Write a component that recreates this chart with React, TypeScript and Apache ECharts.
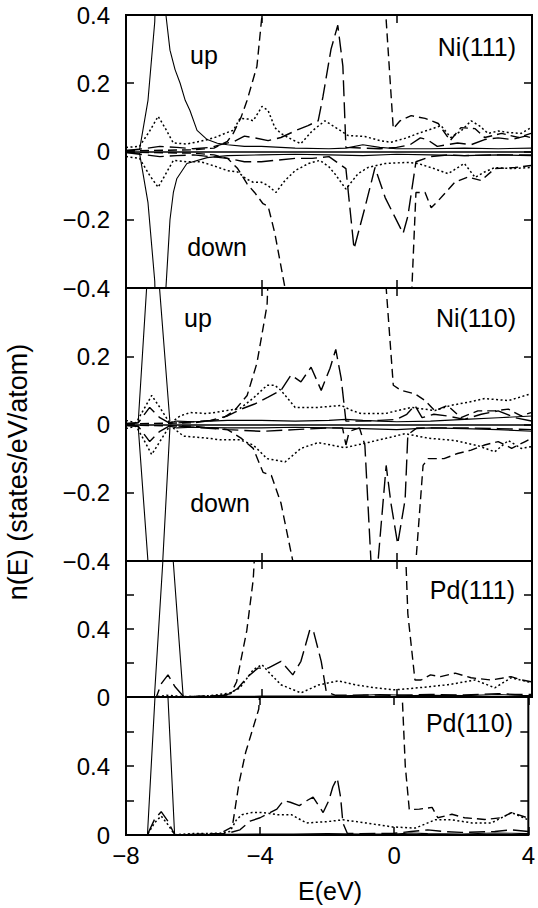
import React, { useEffect, useRef } from 'react';
import * as echarts from 'echarts';

type Pt = [number, number];

// ---------- axis ticks ----------
const xMin = -8;
const xMax = 4;
const xStep = 4;
const niRange = [-0.4, 0.4];
const pdRange = [0, 0.8];
const yStep = 0.2;
const pdLabelled = [0, 0.4];

// ---------- Ni(111) ----------
const ni111SolidUp: Pt[] = [[-8,0.003],[-7.6,0.005],[-7.35,0.15],[-7.15,0.38],[-7.05,0.8],[-6.95,0.8],[-6.82,0.4],[-6.7,0.297],[-6.55,0.24],[-6.4,0.2],[-6.25,0.15],[-6.11,0.12],[-5.9,0.062],[-5.6,0.035],[-5.3,0.024],[-5,0.02],[-4.5,0.015],[-4,0.015],[-3,0.01],[-2,0.008],[-1.5,0.01],[-1,0.02],[-0.5,0.012],[0,0.008],[1,0.008],[2,0.01],[3,0.008],[4,0.01]];
const ni111SolidDown: Pt[] = [[-8,-0.003],[-7.6,-0.005],[-7.35,-0.15],[-7.15,-0.38],[-7.05,-0.8],[-6.95,-0.8],[-6.82,-0.4],[-6.7,-0.2],[-6.6,-0.12],[-6.5,-0.08],[-6.2,-0.035],[-5.6,-0.018],[-5,-0.012],[-4,-0.01],[-3,-0.008],[-2,-0.01],[-1,-0.012],[0,-0.008],[1,-0.01],[2,-0.012],[3,-0.01],[4,-0.012]];
const ni111DotUp: Pt[] = [[-8,0.012],[-7.6,0.015],[-7.3,0.06],[-7.05,0.103],[-6.85,0.07],[-6.6,0.025],[-6.2,0.022],[-5.8,0.03],[-5.4,0.04],[-5.0,0.056],[-4.83,0.062],[-4.63,0.097],[-4.4,0.095],[-4.24,0.09],[-3.98,0.132],[-3.8,0.12],[-3.6,0.07],[-3.42,0.053],[-3.1,0.035],[-2.83,0.023],[-2.5,0.06],[-2.12,0.09],[-1.8,0.07],[-1.44,0.047],[-0.94,0.044],[-0.5,0.032],[-0.17,0.027],[0.3,0.04],[0.63,0.053],[1.0,0.065],[1.31,0.076],[1.6,0.041],[1.9,0.06],[2.2,0.09],[2.45,0.075],[2.7,0.053],[3.0,0.06],[3.29,0.056],[3.68,0.053],[3.97,0.07]];
const ni111DotDown: Pt[] = [[-8,-0.015],[-7.6,-0.02],[-7.3,-0.07],[-7.05,-0.105],[-6.85,-0.07],[-6.6,-0.026],[-6.2,-0.03],[-5.8,-0.03],[-5.4,-0.042],[-5.0,-0.056],[-4.7,-0.06],[-4.45,-0.08],[-4.24,-0.09],[-4.0,-0.09],[-3.8,-0.1],[-3.57,-0.12],[-3.3,-0.085],[-3.0,-0.056],[-2.6,-0.035],[-2.27,-0.026],[-2.0,-0.045],[-1.83,-0.065],[-1.5,-0.11],[-1.14,-0.065],[-0.85,-0.047],[-0.34,-0.035],[0.33,-0.032],[0.63,-0.035],[1.1,-0.05],[1.52,-0.065],[2.0,-0.035],[2.32,-0.076],[2.6,-0.06],[2.9,-0.047],[3.38,-0.05],[3.97,-0.047]];
const ni111DUp: Pt[] = [[-8,0.002],[-6,0.005],[-5.4,0.01],[-5.0,0.03],[-4.83,0.053],[-4.6,0.1],[-4.42,0.15],[-4.13,0.25],[-3.98,0.4],[-3.85,1.2],[-3.5,1.5],[-1,1.5],[-0.45,1.2],[-0.32,0.4],[-0.1,0.067],[0.1,0.09],[0.43,0.105],[0.84,0.097],[1.23,0.082],[1.58,0.032],[1.9,0.07],[2.32,0.067],[2.6,0.041],[3.1,0.053],[3.6,0.041],[3.97,0.053]];
const ni111DDown: Pt[] = [[-8,-0.002],[-6,-0.005],[-5.4,-0.01],[-5,-0.02],[-4.7,-0.05],[-4.42,-0.095],[-4.2,-0.12],[-3.95,-0.153],[-3.8,-0.16],[-3.6,-0.24],[-3.3,-0.4],[-3.1,-0.9],[-2,-1.5],[0,-1.5],[0.3,-1.2],[0.45,-0.4],[0.57,-0.12],[0.84,-0.12],[1.02,-0.165],[1.22,-0.145],[1.72,-0.09],[2.1,-0.075],[2.5,-0.085],[2.9,-0.05],[3.5,-0.047],[3.97,-0.041]];
const ni111LongUp: Pt[] = [[-8,0.003],[-7.5,0.008],[-7.0,0.015],[-6.5,0.012],[-6,0.008],[-5.5,0.012],[-5.2,0.02],[-4.8,0.03],[-4.5,0.045],[-4.2,0.04],[-3.8,0.032],[-3.42,0.041],[-2.9,0.065],[-2.62,0.076],[-2.32,0.09],[-2.18,0.16],[-1.94,0.3],[-1.74,0.37],[-1.59,0.25],[-1.5,0.012],[-1,0.01],[-0.5,0.008],[0,0.012],[0.4,0.02],[0.7,0.04],[0.9,0.035],[1.2,0.015],[1.5,0.02],[1.8,0.025],[2.2,0.02],[2.6,0.035],[3,0.04],[3.4,0.035],[3.8,0.045],[4,0.04]];
const ni111LongDown: Pt[] = [[-8,-0.003],[-7,-0.015],[-6.5,-0.012],[-6,-0.01],[-5.5,-0.015],[-5,-0.02],[-4.5,-0.03],[-4,-0.03],[-3.5,-0.025],[-3,-0.02],[-2.5,-0.02],[-2,-0.015],[-1.5,-0.05],[-1.26,-0.285],[-0.94,-0.165],[-0.64,-0.047],[-0.34,-0.135],[0.19,-0.24],[0.33,-0.19],[0.57,-0.03],[1,-0.015],[1.5,-0.01],[2,-0.012],[3,-0.01],[4,-0.01]];

// ---------- Ni(110) ----------
const ni110SolidUp: Pt[] = [[-8,0.003],[-7.64,0.005],[-7.22,0.67],[-6.7,0.005],[-6.5,0.01],[-6,0.008],[-5.5,0.01],[-5,0.012],[-4,0.012],[-3,0.01],[-2,0.012],[-1.5,0.015],[-1,0.012],[-0.5,0.01],[0,0.008],[1,0.01],[2,0.015],[3,0.02],[4,0.025]];
const ni110SolidDown: Pt[] = [[-8,-0.003],[-7.64,-0.005],[-7.1,-0.745],[-6.7,-0.005],[-6.5,-0.01],[-6,-0.008],[-5,-0.01],[-4,-0.01],[-3,-0.008],[-2,-0.01],[-1,-0.012],[0,-0.015],[1,-0.01],[2,-0.012],[3,-0.015],[4,-0.02]];
const ni110DotUp: Pt[] = [[-8,0.012],[-7.7,0.005],[-7.5,0.04],[-7.24,0.085],[-7.0,0.05],[-6.7,0.003],[-6.4,0.025],[-6.1,0.035],[-5.6,0.032],[-5.2,0.038],[-4.63,0.047],[-4.24,0.077],[-3.83,0.115],[-3.6,0.115],[-3.42,0.1],[-3.0,0.05],[-2.32,0.05],[-1.64,0.056],[-1.3,0.04],[-1.05,0.032],[-0.34,0.032],[0.43,0.05],[1.13,0.041],[1.6,0.056],[2.1,0.065],[2.6,0.076],[3.3,0.07],[3.97,0.09]];
const ni110DotDown: Pt[] = [[-8,-0.012],[-7.7,-0.005],[-7.5,-0.04],[-7.24,-0.088],[-7.0,-0.05],[-6.7,-0.003],[-6.3,-0.034],[-5.6,-0.04],[-5.2,-0.045],[-4.63,-0.045],[-4.24,-0.06],[-3.83,-0.1],[-3.5,-0.106],[-3.3,-0.11],[-2.83,-0.07],[-2.32,-0.053],[-1.53,-0.068],[-0.85,-0.053],[0.25,-0.027],[0.93,-0.04],[1.72,-0.047],[2.4,-0.062],[2.9,-0.08],[3.3,-0.047],[3.68,-0.07],[3.97,-0.065]];
const ni110DUp: Pt[] = [[-8,0.002],[-6,0.005],[-5.2,0.015],[-4.8,0.04],[-4.42,0.085],[-4.13,0.18],[-3.83,0.35],[-3.7,0.7],[-3.4,1.2],[-1,1.2],[-0.45,1.0],[-0.31,0.4],[-0.1,0.115],[0.13,0.1],[0.54,0.09],[0.84,0.07],[1.13,0.04],[1.5,0.056],[1.9,0.02],[2.4,0.04],[2.9,0.04],[3.3,0.045],[3.68,0.025],[3.97,0.035]];
const ni110DDown: Pt[] = [[-8,-0.002],[-6,-0.005],[-5,-0.015],[-4.6,-0.04],[-4.24,-0.07],[-3.95,-0.14],[-3.7,-0.15],[-3.42,-0.23],[-3.07,-0.4],[-2.9,-0.9],[-2,-1.2],[0,-1.2],[0.45,-0.9],[0.57,-0.4],[0.78,-0.12],[0.93,-0.1],[1.4,-0.1],[1.8,-0.085],[2.2,-0.075],[2.6,-0.06],[3.0,-0.05],[3.4,-0.07],[3.8,-0.05],[4,-0.04]];
const ni110LongUp: Pt[] = [[-8,0.003],[-7.64,0.005],[-7.3,0.05],[-7.0,0.02],[-6.7,0.003],[-6,0.008],[-5.5,0.012],[-5,0.025],[-4.6,0.045],[-4.2,0.06],[-3.8,0.08],[-3.42,0.1],[-3.12,0.145],[-2.83,0.125],[-2.53,0.168],[-2.23,0.1],[-1.97,0.165],[-1.8,0.22],[-1.64,0.135],[-1.5,0.01],[-1.0,0.01],[-0.5,0.012],[0,0.015],[0.3,0.03],[0.54,0.056],[0.75,0.02],[1.1,0.03],[1.5,0.025],[2.0,0.015],[2.5,0.03],[3.0,0.04],[3.5,0.02],[4,0.01]];
const ni110LongDown: Pt[] = [[-8,-0.003],[-7.64,-0.005],[-7.3,-0.05],[-7.0,-0.02],[-6.7,-0.003],[-6,-0.008],[-5,-0.015],[-4,-0.02],[-3,-0.015],[-2,-0.01],[-1.6,-0.01],[-1.5,-0.06],[-1.4,-0.02],[-1.1,-0.01],[-0.94,-0.06],[-0.76,-0.4],[-0.66,-0.8],[-0.55,-0.4],[-0.31,-0.12],[-0.17,-0.23],[0.03,-0.35],[0.25,-0.22],[0.33,-0.03],[0.6,-0.01],[1,-0.01],[2,-0.01],[3,-0.012],[4,-0.015]];

// ---------- Pd(111) ----------
const pd111Solid: Pt[] = [[-8,0],[-7.5,0.001],[-7.16,0.002],[-6.77,1.25],[-6.31,0.002],[-6,0.003],[-5,0.004],[-4,0.005],[-3,0.005],[-2,0.006],[-1,0.01],[-0.5,0.015],[0,0.012],[0.5,0.008],[1,0.01],[2,0.008],[3,0.015],[3.5,0.01],[4,0.008]];
const pd111Long: Pt[] = [[-8,0],[-7.1,0.002],[-6.95,0.08],[-6.76,0.13],[-6.55,0.06],[-6.3,0.003],[-6,0.003],[-5.5,0.005],[-5,0.012],[-4.7,0.05],[-4.4,0.12],[-4.1,0.17],[-3.8,0.17],[-3.42,0.21],[-3.07,0.13],[-2.83,0.21],[-2.56,0.4],[-2.45,0.38],[-2.23,0.21],[-2.08,0.03],[-1.8,0.01],[-1,0.012],[0,0.01],[1,0.015],[2,0.012],[3,0.02],[3.5,0.015],[4,0.015]];
const pd111Dot: Pt[] = [[-8,0],[-7.1,0.002],[-6.8,0.01],[-6.3,0.003],[-6,0.002],[-5.5,0.008],[-4.93,0.024],[-4.63,0.054],[-4.24,0.16],[-3.98,0.19],[-3.8,0.15],[-3.42,0.072],[-2.83,0.024],[-2.32,0.07],[-1.73,0.095],[-1.23,0.072],[-0.64,0.054],[-0.05,0.042],[0.63,0.054],[1.52,0.072],[2.32,0.1],[2.9,0.054],[3.38,0.113],[3.97,0.085]];
const pd111D: Pt[] = [[-8,0],[-6,0.002],[-5.2,0.008],[-4.9,0.02],[-4.73,0.09],[-4.43,0.39],[-4.24,0.69],[-4.1,1.2],[-3,1.6],[0,1.6],[0.2,1.2],[0.33,0.49],[0.54,0.1],[0.72,0.1],[1.0,0.13],[1.3,0.12],[1.73,0.14],[2.2,0.113],[2.8,0.1],[3.1,0.11],[3.38,0.12],[3.7,0.1],[3.97,0.09]];

// ---------- Pd(110) ----------
const pd110Solid: Pt[] = [[-8,0],[-7.36,0.002],[-6.93,1.53],[-6.55,0.002],[-6,0.003],[-5,0.004],[-4,0.005],[-3,0.006],[-2,0.008],[-1,0.006],[0,0.005],[0.5,0.012],[1,0.008],[2,0.006],[3,0.012],[3.5,0.01],[4,0.008]];
const pd110Long: Pt[] = [[-8,0],[-7.36,0.002],[-7.15,0.09],[-6.95,0.135],[-6.75,0.08],[-6.55,0.002],[-6,0.003],[-5,0.008],[-4.6,0.03],[-4.3,0.08],[-4.0,0.1],[-3.8,0.12],[-3.5,0.15],[-3.3,0.2],[-3.1,0.19],[-2.83,0.17],[-2.6,0.2],[-2.42,0.22],[-2.12,0.13],[-1.95,0.2],[-1.83,0.28],[-1.7,0.33],[-1.6,0.22],[-1.53,0.07],[-1.4,0.01],[-1,0.008],[0,0.01],[0.5,0.02],[1,0.03],[1.5,0.02],[2,0.015],[3,0.02],[3.5,0.03],[4,0.02]];
const pd110Dot: Pt[] = [[-8,0],[-7.36,0.002],[-7.15,0.07],[-6.95,0.11],[-6.75,0.06],[-6.55,0.002],[-6,0.008],[-5.2,0.01],[-4.9,0.02],[-4.7,0.09],[-4.54,0.118],[-4.24,0.13],[-3.9,0.13],[-3.5,0.118],[-3.07,0.118],[-2.62,0.07],[-2.03,0.077],[-1.53,0.088],[-0.85,0.07],[-0.05,0.047],[0.63,0.04],[1.22,0.088],[1.72,0.088],[2.32,0.07],[2.9,0.07],[3.5,0.13],[3.97,0.09]];
const pd110D: Pt[] = [[-8,0],[-6,0.002],[-5.2,0.008],[-4.83,0.047],[-4.63,0.3],[-4.43,0.48],[-4.04,0.73],[-3.9,1.2],[-3,1.6],[0,1.6],[0.15,1.2],[0.33,0.4],[0.45,0.147],[0.75,0.15],[1.13,0.16],[1.3,0.1],[1.72,0.12],[2.1,0.1],[2.7,0.09],[3.2,0.1],[3.5,0.13],[3.97,0.1]];

// ---------- texts ----------
const panelNames = ['Ni(111)', 'Ni(110)', 'Pd(111)', 'Pd(110)'];
const spinLabels = ['up', 'down'];
const xTitle = 'E(eV)';
const yTitle = 'n(E) (states/eV/atom)';

// ---------- layout & styles ----------
const FONT = '"Liberation Sans", Arial, Helvetica, sans-serif';
const LEFT = 126;
const WIDTH = 406;
const grids = [
  { top: 15, height: 273 },
  { top: 288, height: 273 },
  { top: 561, height: 136 },
  { top: 697, height: 138 },
];
const STYLES: Record<string, any> = {
  solid: { type: 'solid', width: 1.1 },
  dband: { type: [9, 5], width: 1.4 },
  long: { type: [16, 6], width: 1.4 },
  dot: { type: [2, 2.5], width: 1.5 },
};

const panelSeries: [Pt[], string][][] = [
  [[ni111SolidUp, 'solid'], [ni111SolidDown, 'solid'], [ni111DotUp, 'dot'], [ni111DotDown, 'dot'], [ni111DUp, 'dband'], [ni111DDown, 'dband'], [ni111LongUp, 'long'], [ni111LongDown, 'long']],
  [[ni110SolidUp, 'solid'], [ni110SolidDown, 'solid'], [ni110DotUp, 'dot'], [ni110DotDown, 'dot'], [ni110DUp, 'dband'], [ni110DDown, 'dband'], [ni110LongUp, 'long'], [ni110LongDown, 'long']],
  [[pd111Solid, 'solid'], [pd111Long, 'long'], [pd111Dot, 'dot'], [pd111D, 'dband']],
  [[pd110Solid, 'solid'], [pd110Long, 'long'], [pd110Dot, 'dot'], [pd110D, 'dband']],
];

const fmtNum = (v: number) => {
  const r = Math.round(v * 10) / 10;
  if (r === 0) return '0';
  return r < 0 ? '\u2212' + String(Math.abs(r)) : String(r);
};

export default function App() {
  const ref = useRef<HTMLDivElement>(null);
  useEffect(() => {
    if (!ref.current) return;
    const chart = echarts.init(ref.current, undefined, { renderer: 'svg' });
    const tick = { show: true, inside: true, length: 8, lineStyle: { color: '#000', width: 1.5 } };
    const noLine = { show: false, onZero: false };
    const xAxes: any[] = [];
    const yAxes: any[] = [];
    const series: any[] = [];
    grids.forEach((g, i) => {
      const isNi = i < 2;
      const [mn, mx] = isNi ? niRange : pdRange;
      xAxes.push({
        type: 'value', gridIndex: i, min: xMin, max: xMax, interval: xStep, position: 'bottom',
        axisLine: noLine, axisTick: tick, splitLine: { show: false },
        axisLabel: {
          show: i === 3, fontSize: 24, color: '#000', fontFamily: FONT, margin: 8,
          formatter: (v: number) => fmtNum(v),
        },
      });
      xAxes.push({
        type: 'value', gridIndex: i, min: xMin, max: xMax, interval: xStep, position: 'top',
        axisLine: noLine, axisTick: tick, splitLine: { show: false }, axisLabel: { show: false },
      });
      yAxes.push({
        type: 'value', gridIndex: i, min: mn, max: mx, interval: yStep, position: 'left',
        axisLine: noLine, axisTick: tick, splitLine: { show: false },
        axisLabel: {
          show: true, fontSize: 24, color: '#000', fontFamily: FONT, margin: 16,
          formatter: (v: number) => {
            const r = Math.round(v * 10) / 10;
            if (i === 1 && r === 0.4) return '';
            if (!isNi && pdLabelled.indexOf(r) < 0) return '';
            return fmtNum(v);
          },
        },
      });
      yAxes.push({
        type: 'value', gridIndex: i, min: mn, max: mx, interval: yStep, position: 'right',
        axisLine: noLine, axisTick: tick, splitLine: { show: false }, axisLabel: { show: false },
      });
      panelSeries[i].forEach(([data, st], k) => {
        const s: any = {
          type: 'line', xAxisIndex: i * 2, yAxisIndex: i * 2, data, showSymbol: false, symbol: 'none',
          clip: true, silent: true, lineStyle: { color: '#000', ...STYLES[st] },
        };
        if (isNi && k === 0) {
          s.markLine = {
            silent: true, symbol: 'none', label: { show: false },
            lineStyle: { color: '#000', type: 'solid', width: 1.6 },
            data: [{ yAxis: 0 }],
          };
        }
        series.push(s);
      });
    });

    const txt = (text: string, x: number, y: number, align = 'center', size = 25, rotation = 0) => ({
      type: 'text', x, y, rotation, silent: true,
      style: { text, fontSize: size, fontFamily: FONT, fill: '#000', align, verticalAlign: 'middle', textAlign: align, textVerticalAlign: 'middle' },
    });

    chart.setOption({
      animation: false,
      backgroundColor: '#fff',
      grid: grids.map((g) => ({
        left: LEFT, width: WIDTH, top: g.top, height: g.height, show: true,
        borderColor: '#000', borderWidth: 2, backgroundColor: 'transparent', containLabel: false,
      })),
      xAxis: xAxes,
      yAxis: yAxes,
      series,
      graphic: [
        txt(spinLabels[0], 204, 55),
        txt(spinLabels[1], 217, 247),
        txt(panelNames[0], 516, 47, 'right'),
        txt(spinLabels[0], 198, 318),
        txt(spinLabels[1], 220, 503),
        txt(panelNames[1], 516, 318, 'right'),
        txt(panelNames[2], 515, 590, 'right'),
        txt(panelNames[3], 513, 723, 'right'),
        txt(xTitle, 330, 891, 'center', 25),
        txt(yTitle, 18, 472, 'center', 27, Math.PI / 2),
      ],
    });
    return () => chart.dispose();
  }, []);
  return <div ref={ref} style={{ position: 'absolute', left: 0, top: 0, width: 538, height: 908 }} />;
}
